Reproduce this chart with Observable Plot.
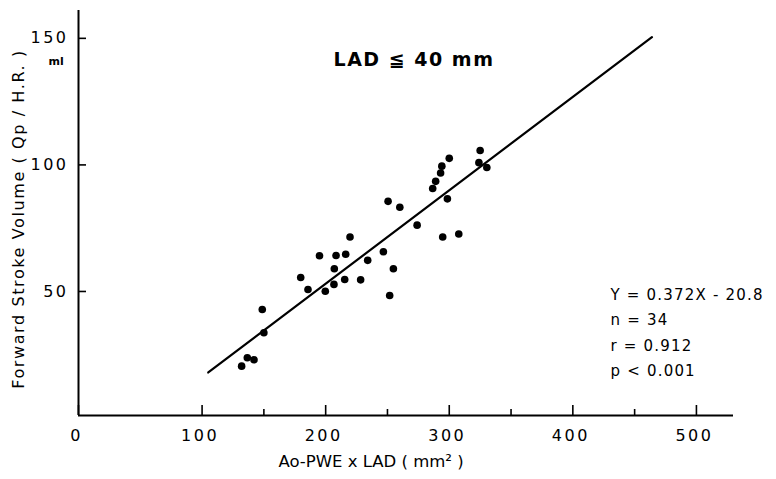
<!DOCTYPE html>
<html>
<head>
<meta charset="utf-8">
<script src="https://cdn.jsdelivr.net/npm/d3@7"></script>
<script src="https://cdn.jsdelivr.net/npm/@observablehq/plot@0.6"></script>
<style>
  html, body { margin: 0; padding: 0; background: #fff; }
  svg { font-family: "DejaVu Sans", sans-serif; }
</style>
</head>
<body>
<div id="chart"></div>
<script>
// Scatter data: Ao-PWE x LAD (mm²) vs forward stroke volume (ml)
const aoPweLad = [325, 324, 330.4, 300, 294, 293, 289, 286.6, 298.5, 250.5,
                  260, 274, 294.7, 307.7, 219.7, 195, 208.4, 216.2, 246.7, 234,
                  207, 254.8, 179.8, 215.4, 228.3, 185.7, 206.7, 199.7, 251.8, 148.7,
                  150, 136.6, 142, 132];
const strokeVolume = [105.7, 100.9, 99, 102.6, 99.5, 96.8, 93.5, 90.7, 86.6, 85.6,
                      83.3, 76.2, 71.5, 72.7, 71.5, 64.1, 64.2, 64.7, 65.7, 62.3,
                      59, 59, 55.5, 54.7, 54.6, 50.8, 52.8, 50.1, 48.4, 42.9,
                      33.7, 23.8, 23, 20.5];
// Regression line endpoints as drawn
const lineX = [105, 464];
const lineY = [18, 150.5];
// Ticks
const xMajorTicks = [0, 100, 200, 300, 400, 500];
const xMinorTicks = [150, 250, 350, 450];
const yTicks = [50, 100, 150];
// Texts
const titleText = "LAD \u2266 40 mm";
const statsLines = ["Y = 0.372X - 20.8", "n = 34", "r = 0.912", "p < 0.001"];
const xLabel = "Ao-PWE x LAD ( mm\u00B2 )";
const yLabel = "Forward Stroke Volume ( Qp / H.R. )";
const yUnit = "ml";

const points = aoPweLad.map((x, i) => ({x, y: strokeVolume[i]}));
const fitLine = lineX.map((x, i) => ({x, y: lineY[i]}));
const yMin = 1;

const chart = Plot.plot({
  width: 776,
  height: 479,
  marginLeft: 78,
  marginRight: 43,
  marginTop: 10,
  marginBottom: 64,
  x: {domain: [0, 530]},
  y: {domain: [yMin, 161]},
  style: {fontFamily: "DejaVu Sans, sans-serif", color: "#000"},
  marks: [
    // axis lines
    Plot.ruleY([yMin], {stroke: "#000", strokeWidth: 2}),
    Plot.ruleX([0], {stroke: "#000", strokeWidth: 2}),
    // x major ticks (inward)
    Plot.axisX({ticks: xMajorTicks, tickSize: -10, tickFormat: () => "", label: null, strokeWidth: 1.6}),
    // x minor ticks
    Plot.axisX({ticks: xMinorTicks, tickSize: -6, tickFormat: () => "", label: null, strokeWidth: 1.6}),
    // x tick labels
    Plot.axisX({ticks: xMajorTicks, tickSize: 0, tickPadding: 14, label: null,
                fontSize: 16, fontWeight: 500, dx: -2}),
    // y ticks (inward)
    Plot.axisY({ticks: yTicks, tickSize: -8, tickFormat: () => "", label: null, strokeWidth: 1.6}),
    // y tick labels
    Plot.axisY({ticks: yTicks, tickSize: 0, tickPadding: 10, label: null,
                fontSize: 16, fontWeight: 500}),
    // regression line
    Plot.line(fitLine, {x: "x", y: "y", stroke: "#000", strokeWidth: 2.2}),
    // points
    Plot.dot(points, {x: "x", y: "y", r: 3.8, fill: "#000", stroke: "none"}),
    // title
    Plot.text([titleText], {frameAnchor: "top", dx: 8, dy: 42, fontSize: 19,
                            fontWeight: 600}),
    // stats
    Plot.text([statsLines.join("\n")], {frameAnchor: "left", textAnchor: "start",
                            dx: 532, dy: 117, fontSize: 15, lineHeight: 1.68}),
    // unit
    Plot.text([yUnit], {frameAnchor: "top-left", dx: -30, dy: 47, fontSize: 11,
                        fontWeight: 600}),
    // axis labels
    Plot.text([yLabel], {frameAnchor: "left", textAnchor: "middle", dx: -60, dy: 6, rotate: -90,
                         fontSize: 16}),
    Plot.text([xLabel], {frameAnchor: "bottom", dx: -35, dy: 51,
                         fontSize: 16.5})
  ]
});

// letter spacing (styling only)
d3.select(chart).selectAll("text").each(function() {
  const t = this.textContent;
  let s = null;
  if (/^\d+$/.test(t)) s = 2.5;
  else if (t.startsWith("LAD")) s = 1.5;
  else if (t.startsWith("Y =")) s = 1.2;
  else if (t.startsWith("Forward")) s = 1.6;
  if (s !== null) this.setAttribute("letter-spacing", s);
});
document.getElementById("chart").appendChild(chart);
</script>
</body>
</html>
